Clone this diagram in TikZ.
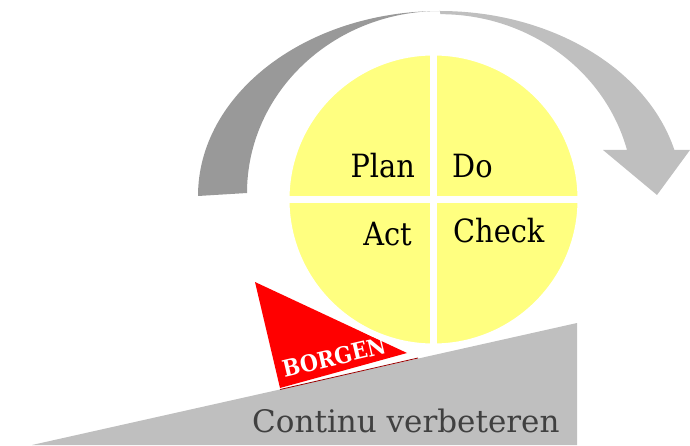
\documentclass[tikz,border=0pt]{standalone}
\usepackage{fontspec}
\usepackage{tikz}
\newfontfamily\slabfont{DejaVu Serif Condensed}
\newfontfamily\widefont{DejaVu Serif}
\definecolor{PdcaYellow}{RGB}{255,255,128}
\definecolor{ArrowDark}{RGB}{153,153,153}
\definecolor{ArrowLight}{RGB}{191,191,191}
\definecolor{SlopeGray}{RGB}{191,191,191}
\definecolor{TextGray}{RGB}{64,64,64}

\begin{document}
\begin{tikzpicture}[x=1pt,y=1pt]
    \tikzset{QuadLabel/.style = {inner sep=0pt, font=\slabfont\fontsize{32}{36}\selectfont}}
    \tikzset{CutLine/.style = {white, line width=7pt}}
    \useasboundingbox (0,0) rectangle (690,445);

    \fill[SlopeGray] (32,0) -- (577,122) -- (577,0) -- cycle;

    \fill[red] (255,163) -- (407,92) -- (280,57) -- cycle;
    \draw[red!60!black, line width=0.8pt] (280,55.5) -- (418,87);
    \node[rotate=13.3, inner sep=0pt, white, font=\slabfont\bfseries\fontsize{23}{26}\selectfont]
        (borgen) at (334,88) {BORGEN};

    \fill[ArrowDark] (198,249) arc[start angle=180, end angle=90, x radius=242, y radius=185]
        arc[start angle=90, end angle=180, x radius=193, y radius=182] -- cycle;
    \fill[ArrowLight] (440,434) arc[start angle=90, end angle=14.4, x radius=242, y radius=185]
        -- (690,295) -- (657,250) -- (603,295) -- (627,295)
        arc[start angle=14.7, end angle=90, x radius=193, y radius=182] -- cycle;

    \filldraw[fill=PdcaYellow, draw=white, line width=6pt] (433.5,245.5) circle (147);
    \draw[CutLine] (433.5,95) -- (433.5,396);
    \draw[CutLine] (283,245.5) -- (584,245.5);

    \node[QuadLabel, anchor=base east] (plan) at (415,267) {Plan};
    \node[QuadLabel, anchor=base west] (do) at (452,267) {Do};
    \node[QuadLabel, anchor=base east] (act) at (412,200) {Act};
    \node[QuadLabel, anchor=base west] (check) at (453,203) {Check};

    \node[anchor=base west, inner sep=0pt, TextGray, font=\widefont\fontsize{31}{36}\selectfont]
        (verbeteren) at (252,13) {Continu verbeteren};
\end{tikzpicture}
\end{document}
